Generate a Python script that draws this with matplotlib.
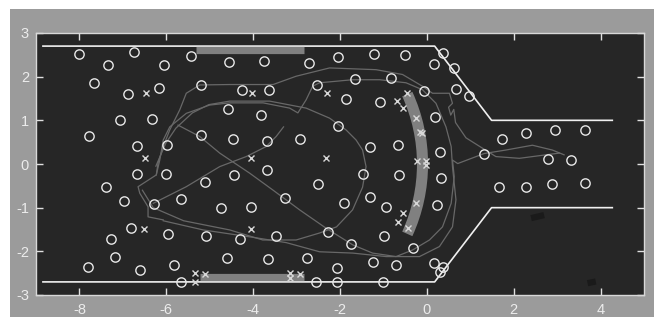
import matplotlib
matplotlib.use("Agg")
import matplotlib.pyplot as plt
from matplotlib.patches import Arc, Rectangle

# --- data ---
circ_x = [-8.00, -6.74, -5.44, -7.35, -6.06, -4.55, -7.66, -6.17, -6.89, -5.21,
          -4.57, -7.07, -6.33, -7.77, -6.68, -5.98, -5.21, -4.47, -3.75, -2.72,
          -2.04, -1.22, -0.51, -4.25, -3.63, -2.54, -1.66, -0.83, -0.07, -1.86,
          -1.09, -3.83, -2.05, -3.67, -2.92, -1.32, -0.67, -3.67, 0.38, 0.16,
          0.63, 0.66, 0.96, 0.18, 0.31, 1.74, 2.28, 2.95, 3.63, 1.32,
          2.78, 3.31, -6.68, -6.01, -7.38, -5.10, -4.44, -6.97, -6.29, -5.67,
          -4.74, -6.81, -5.96, -5.09, -7.27, -7.18, -4.61, -7.80, -6.60, -5.83,
          -5.66, -1.48, -0.65, -2.51, -3.26, -4.04, -1.91, -1.32, -0.93, -4.30,
          -3.47, -2.28, -1.74, -0.98, -0.31, -3.65, -2.75, -1.25, -0.72, -2.07,
          -2.56, -2.07, -1.01, 0.32, 0.24, 1.65, 2.28, 2.88, 3.63, 0.17,
          0.38, 0.30]
circ_y = [2.53, 2.56, 2.47, 2.26, 2.26, 2.33, 1.85, 1.74, 1.60, 1.80,
          1.27, 1.00, 1.04, 0.63, 0.42, 0.43, 0.66, 0.57, 2.35, 2.31,
          2.46, 2.53, 2.49, 1.69, 1.69, 1.80, 1.94, 1.96, 1.68, 1.50,
          1.41, 1.13, 0.86, 0.52, 0.57, 0.40, 0.43, -0.14, 2.54, 2.28,
          2.19, 1.71, 1.55, 1.07, 0.28, 0.58, 0.72, 0.78, 0.78, 0.23,
          0.11, 0.09, -0.23, -0.23, -0.52, -0.41, -0.25, -0.85, -0.92, -0.81,
          -1.01, -1.46, -1.60, -1.66, -1.72, -2.14, -2.16, -2.37, -2.42, -2.31,
          -2.70, -0.23, -0.26, -0.46, -0.79, -0.99, -0.90, -0.75, -0.99, -1.72,
          -1.66, -1.56, -1.84, -1.66, -1.93, -2.18, -2.16, -2.25, -2.31, -2.39,
          -2.70, -2.70, -2.70, -0.31, -0.95, -0.52, -0.52, -0.46, -0.44, -2.27,
          -2.35, -2.47]

cross_x = [-6.47, -6.50, -4.02, -2.31, -0.45, -0.69, -0.56, -0.25, -0.12, -0.15,
           -4.04, -2.33, -0.23, -0.02, -0.03, -6.52, -4.04, -0.26, -0.56, -0.67,
           -0.43, -5.35, -5.12, -5.34, -3.14, -2.91, -3.14]
cross_y = [1.62, 0.13, 1.62, 1.62, 1.63, 1.45, 1.28, 1.06, 0.70, 0.74,
           0.13, 0.13, 0.07, 0.07, -0.02, -1.49, -1.49, -0.90, -1.13, -1.33,
           -1.47, -2.50, -2.52, -2.70, -2.50, -2.52, -2.62]

wall_x = [-8.84, 0.18, 1.49, 4.27]
wall_top_y = [2.70, 2.70, 1.00, 1.00]
wall_bot_y = [-2.70, -2.70, -1.00, -1.00]

bar_top_x = [-5.31, -2.84]
bar_top_y = [2.60, 2.60]
bar_bot_x = [-5.23, -2.84]
bar_bot_y = [-2.58, -2.58]

# curved bar: centre, radius, angular span (deg)
arc_c = (-3.93, 0.0)
arc_r = 3.83
arc_span = 24.7

# trajectory strands (x, y)
path_outer = [(-6.07, -1.28), (-6.42, -1.21), (-6.42, -0.98), (-6.61, -0.67), (-6.65, -0.52),
              (-6.23, -0.25), (-6.19, 0.02), (-6.07, 0.40), (-5.92, 0.78), (-5.69, 1.24),
              (-5.54, 1.62), (-5.23, 1.81), (-4.54, 1.82), (-3.54, 1.82), (-3.01, 2.01),
              (-2.24, 2.20), (-1.17, 2.16), (-0.56, 2.05), (-0.10, 1.78), (0.13, 1.62),
              (0.52, 1.62), (0.59, 1.39), (0.50, 1.30), (0.55, 1.12), (0.62, 1.25),
              (0.66, 0.95), (0.90, 0.60), (1.30, 0.35), (1.59, 0.17), (2.13, 0.13),
              (2.74, 0.21), (3.05, 0.25)]
path_mid = [(-6.23, -0.25), (-6.15, 0.09), (-6.07, 0.55), (-5.92, 0.85), (-5.54, 1.16),
            (-5.00, 1.35), (-4.54, 1.40), (-3.77, 1.40), (-3.16, 1.28), (-2.97, 1.17),
            (-2.78, 1.47), (-2.63, 1.78), (-2.47, 1.86), (-1.71, 1.93), (-1.09, 1.93),
            (-0.48, 1.86), (-0.10, 1.70), (0.21, 1.39), (0.44, 0.85), (0.56, 0.40),
            (0.59, -0.06), (0.67, -0.82), (0.59, -1.44), (0.29, -1.89), (-0.17, -2.12),
            (-0.94, -2.12), (-1.71, -2.04), (-2.47, -2.01), (-3.24, -1.80), (-4.00, -1.68),
            (-5.15, -1.51), (-6.07, -1.30)]
path_inner = [(-6.24, -0.05), (-6.01, 0.48), (-5.78, 0.82), (-5.40, 1.17), (-5.02, 1.36),
              (-4.54, 1.44), (-3.62, 1.44), (-2.78, 1.28), (-2.24, 1.05), (-1.86, 0.78),
              (-1.63, 0.55), (-1.48, 0.32), (-1.40, -0.06), (-1.48, -0.53), (-1.71, -1.05),
              (-2.08, -1.44), (-2.47, -1.58), (-3.01, -1.74), (-3.78, -1.74), (-4.54, -1.51),
              (-5.60, -1.30), (-6.30, -1.00), (-6.55, -0.60)]
path_diag1 = [(-5.73, 0.89), (-5.23, 0.63), (-4.77, 0.25), (-4.08, -0.21), (-3.54, -0.60),
              (-2.93, -1.05), (-2.32, -1.47), (-1.71, -1.85), (-1.25, -2.04), (-0.71, -2.12),
              (-0.33, -1.97), (0.06, -1.74), (0.36, -1.44), (0.56, -0.90), (0.63, -0.29),
              (0.59, 0.09), (0.71, 0.01), (1.32, 0.24), (1.82, 0.32), (2.43, 0.43),
              (2.89, 0.32), (3.16, 0.21)]
path_diag2 = [(-6.30, -0.90), (-5.54, -0.52), (-4.77, -0.06), (-4.16, 0.17), (-3.70, 0.40),
              (-3.47, 0.63), (-3.30, 0.85)]
paths = [path_outer, path_mid, path_inner, path_diag1, path_diag2]

# small dark blotches
blot_x = [[2.40, 2.70], [3.70, 3.89]]
blot_y = [[-1.24, -1.17], [-2.73, -2.69]]

x_ticks = [-8, -6, -4, -2, 0, 2, 4]
y_ticks = [-3, -2, -1, 0, 1, 2, 3]

# --- figure ---
plt.rcParams['font.family'] = ['Liberation Sans', 'DejaVu Sans']
fig = plt.figure(figsize=(6.54, 3.26), dpi=100, facecolor='white')
fig.patches.append(Rectangle((10 / 654, 9 / 326), 1 - 10 / 654, 1 - 18 / 326,
                             transform=fig.transFigure, facecolor='#9b9b9b',
                             edgecolor='none', zorder=-10))
ax = fig.add_axes([36 / 654, 31 / 326, 608 / 654, 262 / 326])
ax.set_zorder(5)
ax.set_facecolor('#262626')

for bx, by in zip(blot_x, blot_y):
    ax.plot(bx, by, color='#1a1a1a', lw=4.5, solid_capstyle='butt', zorder=1)

ax.plot(wall_x, wall_top_y, color='#f0f0f0', lw=1.2, zorder=2)
ax.plot(wall_x, wall_bot_y, color='#f0f0f0', lw=1.2, zorder=2)
ax.plot(bar_top_x, bar_top_y, color='#808080', lw=5.2, solid_capstyle='butt', zorder=2)
ax.plot(bar_bot_x, bar_bot_y, color='#808080', lw=5.2, solid_capstyle='butt', zorder=2)
ax.add_patch(Arc(arc_c, 2 * arc_r, 2 * arc_r, theta1=-arc_span, theta2=arc_span,
                 color='#808080', lw=8, capstyle='butt', zorder=2))

for p in paths:
    px, py = zip(*p)
    ax.plot(px, py, color='#686868', lw=0.9, zorder=3)

ax.plot(circ_x, circ_y, 'o', ms=6.7, mfc='none', mec='#e8e8e8', mew=1.0, zorder=4)
ax.plot(cross_x, cross_y, 'x', ms=4.5, mec='#d8d8d8', mew=1.0, zorder=5)

ax.set_xlim(-9, 5)
ax.set_ylim(-3, 3)
ax.set_xticks(x_ticks)
ax.set_yticks(y_ticks)
ax.set_xticklabels([str(t) for t in x_ticks])
ax.set_yticklabels([str(t) for t in y_ticks])
ax.tick_params(direction='in', length=5, width=1, color='#e0e0e0',
               labelcolor='#ececec', labelsize=10.5, top=True, right=True)
ax.tick_params(axis='x', pad=5.5)
ax.tick_params(axis='y', pad=5)
for s in ax.spines.values():
    s.set_color('#d8d8d8')
    s.set_linewidth(1)

fig.savefig('out.png', dpi=100, facecolor=fig.get_facecolor())
